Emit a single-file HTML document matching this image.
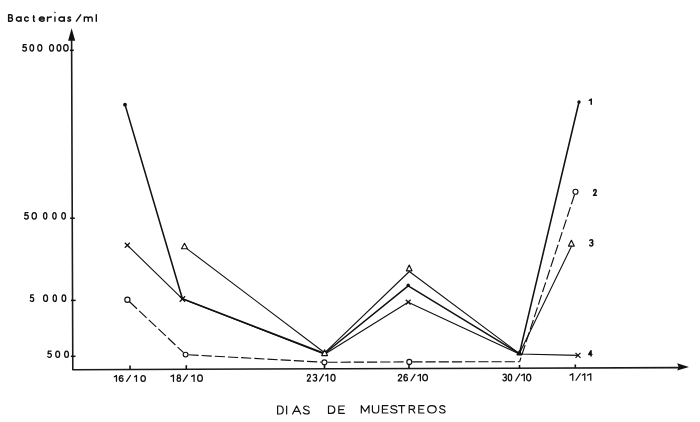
<!DOCTYPE html>
<html><head><meta charset="utf-8">
<style>
html,body{margin:0;padding:0;background:#fff;}
body{width:700px;height:422px;overflow:hidden;}
svg{display:block;}
</style></head>
<body>
<svg width="700" height="422" viewBox="0 0 700 422">
<rect width="700" height="422" fill="#fff"/>
<g stroke="#111" fill="none" stroke-linecap="round" stroke-linejoin="round">
<polyline points="71.6,40 72.8,369.7 679,367.6" stroke-width="1.6" stroke="#1a1a1a" stroke-linecap="butt"/>
<line x1="70.0" y1="50.3" x2="73.8" y2="50.3" stroke-width="1.5" stroke-linecap="butt"/>
<line x1="70.1" y1="218.2" x2="74.8" y2="218.2" stroke-width="1.5" stroke-linecap="butt"/>
<line x1="71.0" y1="300.4" x2="75.7" y2="300.4" stroke-width="1.5" stroke-linecap="butt"/>
<line x1="70.9" y1="356.3" x2="75.5" y2="356.3" stroke-width="1.5" stroke-linecap="butt"/>
<line x1="130.05" y1="365.6" x2="130.05" y2="369.3" stroke-width="1.6" stroke-linecap="butt"/>
<line x1="186.3" y1="365.2" x2="186.3" y2="369" stroke-width="1.6" stroke-linecap="butt"/>
<line x1="324.5" y1="364.5" x2="324.5" y2="368.6" stroke-width="1.6" stroke-linecap="butt"/>
<line x1="409" y1="364.6" x2="409" y2="368.3" stroke-width="1.6" stroke-linecap="butt"/>
<line x1="519.5" y1="365" x2="519.5" y2="368" stroke-width="1.6" stroke-linecap="butt"/>
<line x1="575.3" y1="364.5" x2="575.3" y2="367.8" stroke-width="1.6" stroke-linecap="butt"/>
<polyline points="125.1,104.9 182.4,298.8 324.6,353.5 408.2,285.8 519.4,353.6 579,102" stroke-width="1.55"/>
<polyline points="186.8,248.6 324.6,352.8 409.3,271.5 519.4,353.6 571.5,246.3" stroke-width="1.1"/>
<polyline points="127.3,245.2 182.4,298.8 324.6,354.2 408.2,302.2 519.4,354 578,355.4" stroke-width="1.1"/>
<line x1="129.58" y1="301.76" x2="183.56" y2="352.68" stroke-width="1.15" stroke-dasharray="10.2 3.0" stroke-linecap="butt"/>
<line x1="188.40" y1="354.76" x2="321.40" y2="362.13" stroke-width="1.15" stroke-dasharray="10.2 3.0" stroke-linecap="butt"/>
<line x1="327.40" y1="362.29" x2="406.30" y2="361.91" stroke-width="1.15" stroke-dasharray="10.2 3.0" stroke-linecap="butt"/>
<line x1="412.30" y1="361.89" x2="519.60" y2="361.70" stroke-width="1.15" stroke-dasharray="10.2 3.0" stroke-linecap="butt"/>
<line x1="574.56" y1="194.55" x2="519.60" y2="361.70" stroke-width="1.15" stroke-dasharray="10.2 3.0" stroke-linecap="butt"/>
</g>
<path d="M71.6,28.3 L75.2,40.8 L68.1,40.8 Z" fill="#111"/>
<path d="M689,366.9 L677.2,363.2 L678.6,366.9 L677.2,370.6 Z" fill="#111"/>
<g fill="#111">
<circle cx="125" cy="104.7" r="1.9"/>
<circle cx="408.2" cy="285.2" r="1.7"/>
<circle cx="579" cy="102" r="1.7"/>
</g>
<g fill="#fff" stroke="#111" stroke-width="1.15">
<circle cx="127.4" cy="299.7" r="2.6"/>
<circle cx="185.6" cy="354.6" r="2.4"/>
<circle cx="324.4" cy="362.3" r="2.5"/>
<circle cx="409.3" cy="361.9" r="2.5"/>
<circle cx="575.5" cy="191.7" r="2.5"/>
<path d="M184.5,243.3 L187.50,248.70 L181.50,248.70 Z" stroke-linejoin="round"/>
<path d="M409.2,265 L412.00,270.80 L406.40,270.80 Z" stroke-linejoin="round"/>
<path d="M571.4,240.3 L574.30,246.10 L568.50,246.10 Z" stroke-linejoin="round"/>
<path d="M324.6,349.8 L327.50,355.60 L321.70,355.60 Z" stroke-linejoin="round"/>
<path d="M519.4,350.4 L522,355 L516.8,355 Z" fill="#111" stroke-width="1" stroke-linejoin="round"/>
</g>
<g stroke="#111" stroke-width="1.25" fill="none">
<path d="M124.8,242.7 L129.8,247.7 M124.8,247.7 L129.8,242.7"/>
<path d="M179.70000000000002,296.3 L185.1,301.7 M179.70000000000002,301.7 L185.1,296.3"/>
<path d="M405.8,299.70000000000005 L410.59999999999997,304.5 M405.8,304.5 L410.59999999999997,299.70000000000005"/>
<path d="M575.5,352.9 L580.5,357.9 M575.5,357.9 L580.5,352.9"/>
</g>
<g fill="none" stroke="#111" stroke-linecap="round" stroke-linejoin="round">
<path transform="translate(8.60,14.80) scale(0.6500,0.6400)" d="M0,4.8 L3.3,4.8 C4.7,4.8 5.5,3.9 5.5,2.4 C5.5,0.9 4.7,0 3.3,0 L0,0 L0,10 L3.5,10 C5.1,10 6,9 6,7.4 C6,5.8 5.1,4.8 3.5,4.8" vector-effect="non-scaling-stroke" stroke-width="1.4"/>
<path transform="translate(16.40,14.80) scale(0.7833,0.6400)" d="M6,3.5 L6,10 M6,6.75 C6,4.8 4.8,3.5 3,3.5 C1.2,3.5 0,4.8 0,6.75 C0,8.7 1.2,10 3,10 C4.8,10 6,8.7 6,6.75" vector-effect="non-scaling-stroke" stroke-width="1.4"/>
<path transform="translate(24.60,14.80) scale(0.6923,0.6400)" d="M5.2,4.7 C4.7,3.9 3.9,3.5 2.9,3.5 C1.2,3.5 0,4.8 0,6.75 C0,8.7 1.2,10 2.9,10 C3.9,10 4.7,9.6 5.2,8.8" vector-effect="non-scaling-stroke" stroke-width="1.4"/>
<path transform="translate(33.20,14.80) scale(0.4333,0.6400)" d="M1,1.5 L1,8.8 C1,9.6 1.5,10 2.3,10 L3,10 M0,3.6 L3,3.6" vector-effect="non-scaling-stroke" stroke-width="1.4"/>
<path transform="translate(39.30,14.80) scale(0.8333,0.6400)" d="M0,6.6 L6,6.6 C6,4.8 4.8,3.5 3,3.5 C1.2,3.5 0,4.8 0,6.75 C0,8.7 1.2,10 3,10 C4.2,10 5.2,9.6 5.8,8.8" vector-effect="non-scaling-stroke" stroke-width="1.4"/>
<path transform="translate(47.50,14.80) scale(0.9750,0.6400)" d="M0,3.5 L0,10 M0,5.8 C0.5,4.3 1.7,3.5 3.2,3.5 L4,3.5" vector-effect="non-scaling-stroke" stroke-width="1.4"/>
<path transform="translate(54.45,14.80) scale(1,0.6400)" d="M0.5,3.5 L0.5,10 M0.5,-3.8 L0.5,-3.6" vector-effect="non-scaling-stroke" stroke-width="1.4"/>
<path transform="translate(58.90,14.80) scale(0.9000,0.6400)" d="M6,3.5 L6,10 M6,6.75 C6,4.8 4.8,3.5 3,3.5 C1.2,3.5 0,4.8 0,6.75 C0,8.7 1.2,10 3,10 C4.8,10 6,8.7 6,6.75" vector-effect="non-scaling-stroke" stroke-width="1.4"/>
<path transform="translate(67.80,14.80) scale(0.5800,0.6400)" d="M4.7,4.3 C4.2,3.8 3.4,3.5 2.5,3.5 C1.2,3.5 0.3,4.1 0.3,5.1 C0.3,7 5,6.3 5,8.3 C5,9.4 4,10 2.5,10 C1.4,10 0.5,9.6 0,9" vector-effect="non-scaling-stroke" stroke-width="1.4"/>
<path transform="translate(76.40,14.80) scale(0.8600,0.6400)" d="M0,10 L5,0" vector-effect="non-scaling-stroke" stroke-width="1.4"/>
<path transform="translate(84.30,14.80) scale(0.8778,0.6400)" d="M0,3.5 L0,10 M0,5.6 C0.3,4.2 1.2,3.5 2.4,3.5 C3.7,3.5 4.5,4.3 4.5,5.6 L4.5,10 M4.5,5.6 C4.8,4.2 5.7,3.5 6.9,3.5 C8.2,3.5 9,4.3 9,5.6 L9,10" vector-effect="non-scaling-stroke" stroke-width="1.4"/>
<path transform="translate(95.80,14.80) scale(1,0.6400)" d="M0.5,0 L0.5,10" vector-effect="non-scaling-stroke" stroke-width="1.4"/>
<path transform="translate(22.75,44.55) scale(0.6167,0.6600)" d="M5.6,0 L1,0 L0.5,4.5 C1.2,3.9 2.1,3.7 3,3.7 C4.8,3.7 6,5 6,6.9 C6,8.8 4.7,10 3,10 C1.6,10 0.6,9.4 0,8.5" vector-effect="non-scaling-stroke" stroke-width="1.3"/>
<path transform="translate(29.95,44.55) scale(0.6167,0.6600)" d="M3,0 C5.3,0 6,2.6 6,5 C6,7.4 5.3,10 3,10 C0.7,10 0,7.4 0,5 C0,2.6 0.7,0 3,0 Z" vector-effect="non-scaling-stroke" stroke-width="1.3"/>
<path transform="translate(37.75,44.55) scale(0.6833,0.6600)" d="M3,0 C5.3,0 6,2.6 6,5 C6,7.4 5.3,10 3,10 C0.7,10 0,7.4 0,5 C0,2.6 0.7,0 3,0 Z" vector-effect="non-scaling-stroke" stroke-width="1.3"/>
<path transform="translate(49.55,44.55) scale(0.6667,0.6600)" d="M3,0 C5.3,0 6,2.6 6,5 C6,7.4 5.3,10 3,10 C0.7,10 0,7.4 0,5 C0,2.6 0.7,0 3,0 Z" vector-effect="non-scaling-stroke" stroke-width="1.3"/>
<path transform="translate(57.05,44.55) scale(0.6333,0.6600)" d="M3,0 C5.3,0 6,2.6 6,5 C6,7.4 5.3,10 3,10 C0.7,10 0,7.4 0,5 C0,2.6 0.7,0 3,0 Z" vector-effect="non-scaling-stroke" stroke-width="1.3"/>
<path transform="translate(63.65,44.55) scale(0.7500,0.6600)" d="M3,0 C5.3,0 6,2.6 6,5 C6,7.4 5.3,10 3,10 C0.7,10 0,7.4 0,5 C0,2.6 0.7,0 3,0 Z" vector-effect="non-scaling-stroke" stroke-width="1.3"/>
<path transform="translate(24.55,212.55) scale(0.6167,0.6600)" d="M5.6,0 L1,0 L0.5,4.5 C1.2,3.9 2.1,3.7 3,3.7 C4.8,3.7 6,5 6,6.9 C6,8.8 4.7,10 3,10 C1.6,10 0.6,9.4 0,8.5" vector-effect="non-scaling-stroke" stroke-width="1.3"/>
<path transform="translate(32.05,212.55) scale(0.7333,0.6600)" d="M3,0 C5.3,0 6,2.6 6,5 C6,7.4 5.3,10 3,10 C0.7,10 0,7.4 0,5 C0,2.6 0.7,0 3,0 Z" vector-effect="non-scaling-stroke" stroke-width="1.3"/>
<path transform="translate(43.55,212.55) scale(0.5500,0.6600)" d="M3,0 C5.3,0 6,2.6 6,5 C6,7.4 5.3,10 3,10 C0.7,10 0,7.4 0,5 C0,2.6 0.7,0 3,0 Z" vector-effect="non-scaling-stroke" stroke-width="1.3"/>
<path transform="translate(52.75,212.55) scale(0.5667,0.6600)" d="M3,0 C5.3,0 6,2.6 6,5 C6,7.4 5.3,10 3,10 C0.7,10 0,7.4 0,5 C0,2.6 0.7,0 3,0 Z" vector-effect="non-scaling-stroke" stroke-width="1.3"/>
<path transform="translate(61.75,212.55) scale(0.6167,0.6600)" d="M3,0 C5.3,0 6,2.6 6,5 C6,7.4 5.3,10 3,10 C0.7,10 0,7.4 0,5 C0,2.6 0.7,0 3,0 Z" vector-effect="non-scaling-stroke" stroke-width="1.3"/>
<path transform="translate(30.25,294.85) scale(0.5667,0.6600)" d="M5.6,0 L1,0 L0.5,4.5 C1.2,3.9 2.1,3.7 3,3.7 C4.8,3.7 6,5 6,6.9 C6,8.8 4.7,10 3,10 C1.6,10 0.6,9.4 0,8.5" vector-effect="non-scaling-stroke" stroke-width="1.3"/>
<path transform="translate(43.55,294.85) scale(0.6667,0.6600)" d="M3,0 C5.3,0 6,2.6 6,5 C6,7.4 5.3,10 3,10 C0.7,10 0,7.4 0,5 C0,2.6 0.7,0 3,0 Z" vector-effect="non-scaling-stroke" stroke-width="1.3"/>
<path transform="translate(53.15,294.85) scale(0.5500,0.6600)" d="M3,0 C5.3,0 6,2.6 6,5 C6,7.4 5.3,10 3,10 C0.7,10 0,7.4 0,5 C0,2.6 0.7,0 3,0 Z" vector-effect="non-scaling-stroke" stroke-width="1.3"/>
<path transform="translate(62.05,294.85) scale(0.6167,0.6600)" d="M3,0 C5.3,0 6,2.6 6,5 C6,7.4 5.3,10 3,10 C0.7,10 0,7.4 0,5 C0,2.6 0.7,0 3,0 Z" vector-effect="non-scaling-stroke" stroke-width="1.3"/>
<path transform="translate(47.75,351.05) scale(0.6000,0.6400)" d="M5.6,0 L1,0 L0.5,4.5 C1.2,3.9 2.1,3.7 3,3.7 C4.8,3.7 6,5 6,6.9 C6,8.8 4.7,10 3,10 C1.6,10 0.6,9.4 0,8.5" vector-effect="non-scaling-stroke" stroke-width="1.3"/>
<path transform="translate(55.75,351.05) scale(0.6500,0.6400)" d="M3,0 C5.3,0 6,2.6 6,5 C6,7.4 5.3,10 3,10 C0.7,10 0,7.4 0,5 C0,2.6 0.7,0 3,0 Z" vector-effect="non-scaling-stroke" stroke-width="1.3"/>
<path transform="translate(64.65,351.05) scale(0.6333,0.6400)" d="M3,0 C5.3,0 6,2.6 6,5 C6,7.4 5.3,10 3,10 C0.7,10 0,7.4 0,5 C0,2.6 0.7,0 3,0 Z" vector-effect="non-scaling-stroke" stroke-width="1.3"/>
<path transform="translate(114.33,375.52) scale(0.6719,0.5850)" d="M0,2.2 L3.2,0 L3.2,10" vector-effect="non-scaling-stroke" stroke-width="1.25"/>
<path transform="translate(119.22,375.52) scale(0.6417,0.5850)" d="M5.6,1.2 C5,0.4 4.1,0 3.1,0 C1.2,0 0,2 0,5.3 C0,8.3 1.2,10 3,10 C4.8,10 6,8.7 6,6.9 C6,5.1 4.8,3.9 3.1,3.9 C1.6,3.9 0.4,4.9 0,6.2" vector-effect="non-scaling-stroke" stroke-width="1.25"/>
<path transform="translate(126.62,375.52) scale(0.7700,0.5850)" d="M0,10 L5,0" vector-effect="non-scaling-stroke" stroke-width="1.25"/>
<path transform="translate(134.62,375.52) scale(0.5781,0.5850)" d="M0,2.2 L3.2,0 L3.2,10" vector-effect="non-scaling-stroke" stroke-width="1.25"/>
<path transform="translate(140.93,375.52) scale(0.7417,0.5850)" d="M3,0 C5.3,0 6,2.6 6,5 C6,7.4 5.3,10 3,10 C0.7,10 0,7.4 0,5 C0,2.6 0.7,0 3,0 Z" vector-effect="non-scaling-stroke" stroke-width="1.25"/>
<path transform="translate(171.03,374.93) scale(0.7656,0.6450)" d="M0,2.2 L3.2,0 L3.2,10" vector-effect="non-scaling-stroke" stroke-width="1.25"/>
<path transform="translate(177.03,374.93) scale(0.6083,0.6450)" d="M3,4.7 C1.5,4.7 0.4,3.8 0.4,2.35 C0.4,0.9 1.5,0 3,0 C4.5,0 5.6,0.9 5.6,2.35 C5.6,3.8 4.5,4.7 3,4.7 C1.2,4.7 0,5.8 0,7.35 C0,8.9 1.2,10 3,10 C4.8,10 6,8.9 6,7.35 C6,5.8 4.8,4.7 3,4.7 Z" vector-effect="non-scaling-stroke" stroke-width="1.25"/>
<path transform="translate(183.32,374.93) scale(0.8300,0.6450)" d="M0,10 L5,0" vector-effect="non-scaling-stroke" stroke-width="1.25"/>
<path transform="translate(191.62,374.93) scale(0.7656,0.6450)" d="M0,2.2 L3.2,0 L3.2,10" vector-effect="non-scaling-stroke" stroke-width="1.25"/>
<path transform="translate(197.62,374.93) scale(0.7917,0.6450)" d="M3,0 C5.3,0 6,2.6 6,5 C6,7.4 5.3,10 3,10 C0.7,10 0,7.4 0,5 C0,2.6 0.7,0 3,0 Z" vector-effect="non-scaling-stroke" stroke-width="1.25"/>
<path transform="translate(307.23,374.32) scale(0.5417,0.6750)" d="M0.2,2.6 C0.4,1 1.5,0 3,0 C4.7,0 5.8,1.1 5.8,2.7 C5.8,4.3 4.8,5.3 3.2,6.6 L0,10 L6,10" vector-effect="non-scaling-stroke" stroke-width="1.25"/>
<path transform="translate(313.23,374.32) scale(0.5917,0.6750)" d="M0.2,1.2 C0.8,0.4 1.8,0 3,0 C4.6,0 5.7,1 5.7,2.5 C5.7,3.9 4.6,4.8 2.7,4.8 C4.7,4.8 6,5.8 6,7.4 C6,9 4.7,10 3,10 C1.7,10 0.6,9.5 0,8.6" vector-effect="non-scaling-stroke" stroke-width="1.25"/>
<path transform="translate(319.52,374.32) scale(0.7700,0.6750)" d="M0,10 L5,0" vector-effect="non-scaling-stroke" stroke-width="1.25"/>
<path transform="translate(325.73,374.32) scale(0.6094,0.6750)" d="M0,2.2 L3.2,0 L3.2,10" vector-effect="non-scaling-stroke" stroke-width="1.25"/>
<path transform="translate(330.93,374.32) scale(0.6917,0.6750)" d="M3,0 C5.3,0 6,2.6 6,5 C6,7.4 5.3,10 3,10 C0.7,10 0,7.4 0,5 C0,2.6 0.7,0 3,0 Z" vector-effect="non-scaling-stroke" stroke-width="1.25"/>
<path transform="translate(398.23,374.32) scale(0.5917,0.6450)" d="M0.2,2.6 C0.4,1 1.5,0 3,0 C4.7,0 5.8,1.1 5.8,2.7 C5.8,4.3 4.8,5.3 3.2,6.6 L0,10 L6,10" vector-effect="non-scaling-stroke" stroke-width="1.25"/>
<path transform="translate(403.93,374.32) scale(0.5917,0.6450)" d="M5.6,1.2 C5,0.4 4.1,0 3.1,0 C1.2,0 0,2 0,5.3 C0,8.3 1.2,10 3,10 C4.8,10 6,8.7 6,6.9 C6,5.1 4.8,3.9 3.1,3.9 C1.6,3.9 0.4,4.9 0,6.2" vector-effect="non-scaling-stroke" stroke-width="1.25"/>
<path transform="translate(411.02,374.32) scale(0.7900,0.6450)" d="M0,10 L5,0" vector-effect="non-scaling-stroke" stroke-width="1.25"/>
<path transform="translate(417.93,374.32) scale(0.7656,0.6450)" d="M0,2.2 L3.2,0 L3.2,10" vector-effect="non-scaling-stroke" stroke-width="1.25"/>
<path transform="translate(422.73,374.32) scale(0.7917,0.6450)" d="M3,0 C5.3,0 6,2.6 6,5 C6,7.4 5.3,10 3,10 C0.7,10 0,7.4 0,5 C0,2.6 0.7,0 3,0 Z" vector-effect="non-scaling-stroke" stroke-width="1.25"/>
<path transform="translate(502.93,374.02) scale(0.5917,0.6750)" d="M0.2,1.2 C0.8,0.4 1.8,0 3,0 C4.6,0 5.7,1 5.7,2.5 C5.7,3.9 4.6,4.8 2.7,4.8 C4.7,4.8 6,5.8 6,7.4 C6,9 4.7,10 3,10 C1.7,10 0.6,9.5 0,8.6" vector-effect="non-scaling-stroke" stroke-width="1.25"/>
<path transform="translate(508.23,374.02) scale(0.5750,0.6750)" d="M3,0 C5.3,0 6,2.6 6,5 C6,7.4 5.3,10 3,10 C0.7,10 0,7.4 0,5 C0,2.6 0.7,0 3,0 Z" vector-effect="non-scaling-stroke" stroke-width="1.25"/>
<path transform="translate(515.73,374.02) scale(0.7900,0.6750)" d="M0,10 L5,0" vector-effect="non-scaling-stroke" stroke-width="1.25"/>
<path transform="translate(521.52,374.02) scale(0.8594,0.6750)" d="M0,2.2 L3.2,0 L3.2,10" vector-effect="non-scaling-stroke" stroke-width="1.25"/>
<path transform="translate(526.62,374.02) scale(0.6917,0.6750)" d="M3,0 C5.3,0 6,2.6 6,5 C6,7.4 5.3,10 3,10 C0.7,10 0,7.4 0,5 C0,2.6 0.7,0 3,0 Z" vector-effect="non-scaling-stroke" stroke-width="1.25"/>
<path transform="translate(570.02,373.73) scale(0.8594,0.6550)" d="M0,2.2 L3.2,0 L3.2,10" vector-effect="non-scaling-stroke" stroke-width="1.25"/>
<path transform="translate(576.02,373.73) scale(0.8500,0.6550)" d="M0,10 L5,0" vector-effect="non-scaling-stroke" stroke-width="1.25"/>
<path transform="translate(582.33,373.73) scale(0.7656,0.6550)" d="M0,2.2 L3.2,0 L3.2,10" vector-effect="non-scaling-stroke" stroke-width="1.25"/>
<path transform="translate(587.52,373.73) scale(1.0156,0.6550)" d="M0,2.2 L3.2,0 L3.2,10" vector-effect="non-scaling-stroke" stroke-width="1.25"/>
<path transform="translate(589.35,99.15) scale(0.5937,0.5100)" d="M0,2.2 L3.2,0 L3.2,10" vector-effect="non-scaling-stroke" stroke-width="1.5"/>
<path transform="translate(593.55,189.55) scale(0.4667,0.5800)" d="M0.2,2.6 C0.4,1 1.5,0 3,0 C4.7,0 5.8,1.1 5.8,2.7 C5.8,4.3 4.8,5.3 3.2,6.6 L0,10 L6,10" vector-effect="non-scaling-stroke" stroke-width="1.5"/>
<path transform="translate(589.75,239.65) scale(0.5333,0.6300)" d="M0.2,1.2 C0.8,0.4 1.8,0 3,0 C4.6,0 5.7,1 5.7,2.5 C5.7,3.9 4.6,4.8 2.7,4.8 C4.7,4.8 6,5.8 6,7.4 C6,9 4.7,10 3,10 C1.7,10 0.6,9.5 0,8.6" vector-effect="non-scaling-stroke" stroke-width="1.5"/>
<path transform="translate(588.75,350.75) scale(0.5000,0.5300)" d="M4.6,10 L4.6,0 L0,7 L6.2,7" vector-effect="non-scaling-stroke" stroke-width="1.5"/>
<path transform="translate(277.60,406.00) scale(0.8615,0.8000)" d="M0,0 L0,10 L2.8,10 C5,10 6.5,8 6.5,5 C6.5,2 5,0 2.8,0 Z" vector-effect="non-scaling-stroke" stroke-width="1.2"/>
<path transform="translate(286.15,406.00) scale(1,0.8000)" d="M0.5,0 L0.5,10" vector-effect="non-scaling-stroke" stroke-width="1.2"/>
<path transform="translate(292.60,406.00) scale(1.0125,0.8000)" d="M0,10 L4,0 L8,10 M1.4,6.6 L6.6,6.6" vector-effect="non-scaling-stroke" stroke-width="1.2"/>
<path transform="translate(303.30,406.00) scale(0.9231,0.8000)" d="M6.2,1.6 C5.6,0.6 4.5,0 3.2,0 C1.6,0 0.4,0.9 0.4,2.6 C0.4,5.8 6.5,4.5 6.5,7.5 C6.5,9 5.2,10 3.3,10 C1.8,10 0.6,9.4 0,8.3" vector-effect="non-scaling-stroke" stroke-width="1.2"/>
<path transform="translate(328.50,406.00) scale(0.9692,0.7300)" d="M0,0 L0,10 L2.8,10 C5,10 6.5,8 6.5,5 C6.5,2 5,0 2.8,0 Z" vector-effect="non-scaling-stroke" stroke-width="1.2"/>
<path transform="translate(338.80,406.00) scale(0.9333,0.7300)" d="M6,0 L0,0 L0,10 L6,10 M0,4.9 L5,4.9" vector-effect="non-scaling-stroke" stroke-width="1.2"/>
<path transform="translate(361.30,405.60) scale(0.9625,0.7400)" d="M0,10 L0,0 L4,8 L8,0 L8,10" vector-effect="non-scaling-stroke" stroke-width="1.2"/>
<path transform="translate(372.40,405.60) scale(0.9692,0.7400)" d="M0,0 L0,6.6 C0,8.8 1.3,10 3.25,10 C5.2,10 6.5,8.8 6.5,6.6 L6.5,0" vector-effect="non-scaling-stroke" stroke-width="1.2"/>
<path transform="translate(382.40,405.60) scale(0.9333,0.7400)" d="M6,0 L0,0 L0,10 L6,10 M0,4.9 L5,4.9" vector-effect="non-scaling-stroke" stroke-width="1.2"/>
<path transform="translate(390.60,405.60) scale(0.9846,0.7400)" d="M6.2,1.6 C5.6,0.6 4.5,0 3.2,0 C1.6,0 0.4,0.9 0.4,2.6 C0.4,5.8 6.5,4.5 6.5,7.5 C6.5,9 5.2,10 3.3,10 C1.8,10 0.6,9.4 0,8.3" vector-effect="non-scaling-stroke" stroke-width="1.2"/>
<path transform="translate(398.50,405.60) scale(0.9000,0.7400)" d="M0,0 L7,0 M3.5,0 L3.5,10" vector-effect="non-scaling-stroke" stroke-width="1.2"/>
<path transform="translate(409.20,405.60) scale(0.8615,0.7400)" d="M0,10 L0,0 L3.6,0 C5.2,0 6.2,1 6.2,2.6 C6.2,4.2 5.2,5.2 3.6,5.2 L0,5.2 M3.8,5.2 L6.5,10" vector-effect="non-scaling-stroke" stroke-width="1.2"/>
<path transform="translate(418.80,405.60) scale(0.8667,0.7400)" d="M6,0 L0,0 L0,10 L6,10 M0,4.9 L5,4.9" vector-effect="non-scaling-stroke" stroke-width="1.2"/>
<path transform="translate(427.70,405.60) scale(0.9444,0.7400)" d="M4.5,0 C7.4,0 9,2.3 9,5 C9,7.7 7.4,10 4.5,10 C1.6,10 0,7.7 0,5 C0,2.3 1.6,0 4.5,0 Z" vector-effect="non-scaling-stroke" stroke-width="1.2"/>
<path transform="translate(439.50,405.60) scale(0.8615,0.7400)" d="M6.2,1.6 C5.6,0.6 4.5,0 3.2,0 C1.6,0 0.4,0.9 0.4,2.6 C0.4,5.8 6.5,4.5 6.5,7.5 C6.5,9 5.2,10 3.3,10 C1.8,10 0.6,9.4 0,8.3" vector-effect="non-scaling-stroke" stroke-width="1.2"/>
</g>
</svg>
</body></html>
